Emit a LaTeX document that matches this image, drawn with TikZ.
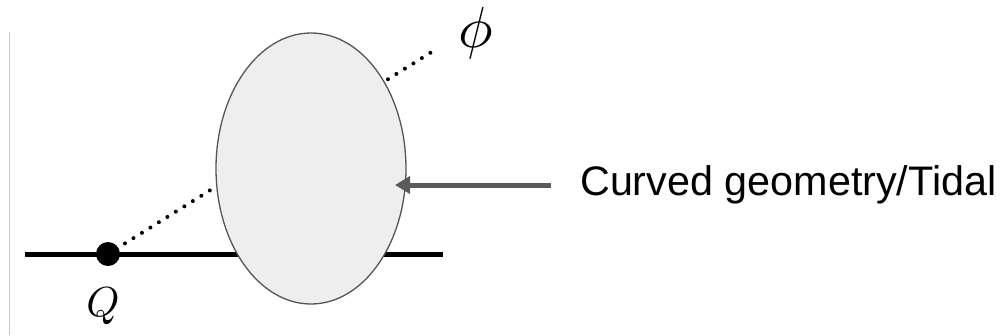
\documentclass[tikz,border=0pt]{standalone}
\usepackage{fontspec}
\setsansfont{Liberation Sans}
\usetikzlibrary{arrows.meta}
\definecolor{ellfill}{HTML}{EEEEEE}
\definecolor{elldraw}{HTML}{555555}
\definecolor{arrowgray}{HTML}{5A5A5A}
\definecolor{sidegray}{HTML}{C8C8C8}
\begin{document}
\begin{tikzpicture}[x=1pt,y=-1pt,
  wire/.style={line width=5pt,black},
  dotline/.style={line width=4pt,line cap=round,dash pattern=on 0pt off 10pt},
  pointer/.style={line width=5pt,arrowgray,-{Triangle[length=15pt,width=17pt]}},
  lbl/.style={font=\sffamily\fontsize{41.3}{48}\selectfont,anchor=west,inner sep=0pt}
]
\useasboundingbox (0,0) rectangle (1004,335);
\draw[sidegray,line width=1pt] (9,32) -- (9,335);
\coordinate (wl) at (25,254);
\coordinate (wr) at (443,254);
\coordinate (qpos) at (108,254);
\coordinate (dend) at (438,48);
\draw[wire] (wl) -- (wr);
\draw[dotline] (qpos) -- (dend);
\fill[ellfill] (311,168.5) ellipse [x radius=95, y radius=135.5];
\draw[elldraw,line width=1.3pt] (311,168.5) ellipse [x radius=95, y radius=135.5];
\fill[black] (qpos) circle (12);
\node[inner sep=0pt,scale=4.2] (Q) at (103,306) {$Q$};
\node[inner sep=0pt,scale=5.8] (phi) at (476,33) {$\phi$};
\coordinate (tip) at (395,185);
\node[lbl] (txt) at (580,185) {Curved geometry/Tidal};
\draw[pointer] (551,185) -- (tip);
\end{tikzpicture}
\end{document}
